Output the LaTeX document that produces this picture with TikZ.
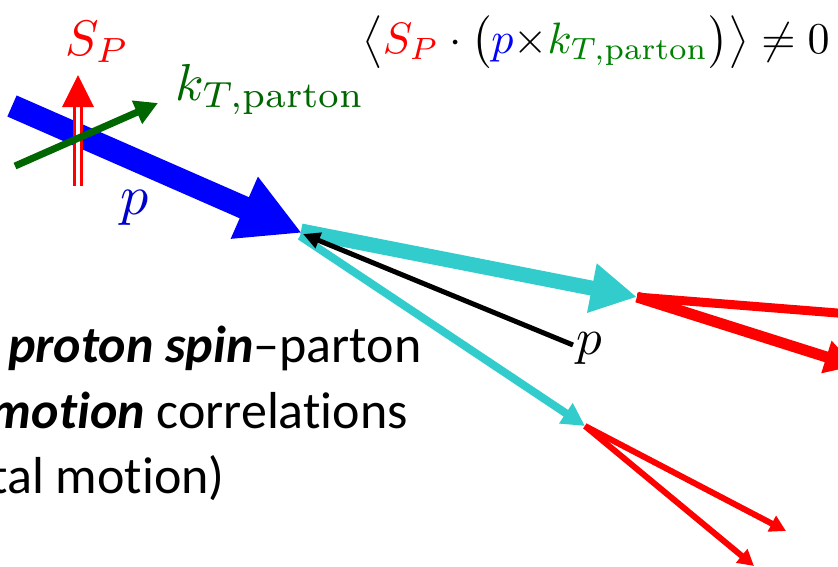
\documentclass[tikz,border=0pt]{standalone}
\usepackage{fontspec}
\usepackage{graphicx}
\newfontfamily\carlito[Ligatures=NoCommon]{Carlito}
\usetikzlibrary{arrows.meta}
\definecolor{cyanA}{HTML}{33CCCC}
\definecolor{greenA}{HTML}{006600}
\definecolor{greenB}{HTML}{008000}
\definecolor{blueA}{HTML}{0000FF}
\definecolor{blueB}{HTML}{0000CC}
\definecolor{redA}{HTML}{FF0000}
\tikzset{
  lbl/.style={inner sep=0pt, anchor=base west},
  txt/.style={inner sep=0pt, font=\carlito\fontsize{52}{65}\selectfont},
}
\begin{document}
\begin{tikzpicture}[x=1pt,y=-1pt]
\useasboundingbox (0,0) rectangle (838,566);
\clip (0,0) rectangle (838,566);
% coordinates
\coordinate (b0) at (12,106);
\coordinate (b1) at (302,233);
\coordinate (c0) at (301,231);
\coordinate (c1) at (637,297);
\coordinate (d0) at (300,236);
\coordinate (d1) at (585,426);
\coordinate (k0) at (573,345);
\coordinate (k1) at (303,234);
\coordinate (g0) at (15,166);
\coordinate (g1) at (158,103);
\coordinate (s0) at (78,186);
\coordinate (s1) at (78,107);
\coordinate (s2) at (78,75);
\coordinate (ra) at (900,318);
\coordinate (rb) at (855,366);
\coordinate (rc) at (786,531);
\coordinate (rd) at (754,566);
% blue proton arrow
\draw[blueA, line width=23pt, -{Triangle[length=63pt,width=63pt]}] (b0) -- (b1);
% spin double arrow
\draw[redA, line width=3.5pt, double=white, double distance=3.5pt] (s0) -- (s1);
\fill[redA] (62,107) -- (s2) -- (94,107) -- cycle;
% green kT arrow
\draw[greenA, line width=7pt, -{Triangle[length=23pt,width=24pt]}] (g0) -- (g1);
% cyan partons
\draw[cyanA, line width=15pt, -{Triangle[length=46pt,width=47pt]}] (c0) -- (c1);
\draw[cyanA, line width=8pt, -{Triangle[length=23pt,width=23pt]}] (d0) -- (d1);
% black p arrow
\draw[black, line width=5pt, -{Triangle[length=17pt,width=16pt]}] (k0) -- (k1);
% red hadrons
\draw[redA, line width=9pt, -{Triangle[length=30pt,width=30pt]}] (c1) -- (ra);
\draw[redA, line width=11pt, -{Triangle[length=30pt,width=32pt]}] (c1) -- (rb);
\draw[redA, line width=6pt, -{Triangle[length=16pt,width=17pt]}] (d1) -- (rc);
\draw[redA, line width=6pt, -{Triangle[length=16pt,width=17pt]}] (d1) -- (rd);
% labels
\node[lbl, text=redA] (sp) at (65,55) {\scalebox{5.0}{$S_P$}};
\node[lbl, text=greenA] (kt) at (175,100) {\scalebox{5.2}{$k_{T,\mathrm{parton}}$}};
\node[lbl, text=blueB] (pl) at (120,214) {\scalebox{5.6}{$p$}};
\node[lbl, text=black] (pb) at (576,354) {\scalebox{5.1}{$p$}};
\node[inner sep=0pt, anchor=base east] (eq) at (830,53)
  {\scalebox{4.4}{$\big\langle{\color{redA}S_P}\cdot\big({\color{blueA}p}{\times}{\color{greenB}k_{T,\mathrm{parton}}}\big)\big\rangle\neq 0$}};
% text
\node[txt, anchor=base west] (t1) at (8,362) {\textbf{\textit{proton spin}}\textendash parton};
\node[txt, anchor=base east] (t2) at (408,428) {\textbf{\textit{motion}} correlations};
\node[txt, anchor=base east] (t3) at (225,493) {tal motion)};
\end{tikzpicture}
\end{document}
